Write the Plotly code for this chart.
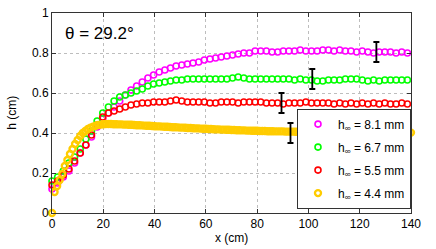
import numpy as np
import plotly.graph_objects as go

# ---------------- data ----------------
STEP_MAIN = 2.2   # cm between markers for the three larger depths
STEP_Y = 1.0      # cm between markers for the 4.4 mm run

h_magenta = [0.12, 0.15, 0.18, 0.21, 0.25, 0.30, 0.34, 0.38, 0.43, 0.47,
             0.50, 0.53, 0.56, 0.59, 0.615, 0.635, 0.655, 0.675, 0.69, 0.705,
             0.715, 0.725, 0.735, 0.74, 0.745, 0.75, 0.755, 0.765, 0.77, 0.775,
             0.78, 0.785, 0.79, 0.795, 0.80, 0.80, 0.81, 0.81, 0.81, 0.805,
             0.805, 0.81, 0.81, 0.81, 0.815, 0.81, 0.81, 0.81, 0.815, 0.815,
             0.81, 0.815, 0.81, 0.81, 0.805, 0.81, 0.805, 0.80, 0.805, 0.805,
             0.805, 0.80, 0.805, 0.80]

h_green = [0.16, 0.18, 0.21, 0.25, 0.28, 0.32, 0.37, 0.41, 0.46, 0.50,
           0.53, 0.56, 0.58, 0.59, 0.60, 0.61, 0.62, 0.635, 0.645, 0.65,
           0.655, 0.66, 0.665, 0.665, 0.67, 0.67, 0.67, 0.67, 0.67, 0.67,
           0.67, 0.67, 0.675, 0.68, 0.675, 0.67, 0.67, 0.67, 0.67, 0.67,
           0.67, 0.67, 0.67, 0.665, 0.67, 0.665, 0.665, 0.66, 0.66, 0.665,
           0.665, 0.665, 0.67, 0.67, 0.67, 0.665, 0.66, 0.665, 0.66, 0.665,
           0.665, 0.665, 0.665, 0.665]

h_red = [0.14, 0.16, 0.19, 0.22, 0.26, 0.30, 0.34, 0.39, 0.44, 0.48,
         0.50, 0.51, 0.52, 0.53, 0.54, 0.545, 0.55, 0.55, 0.555, 0.555,
         0.555, 0.56, 0.565, 0.56, 0.555, 0.555, 0.555, 0.555, 0.55, 0.55,
         0.555, 0.555, 0.555, 0.55, 0.555, 0.555, 0.555, 0.555, 0.55, 0.55,
         0.55, 0.545, 0.55, 0.55, 0.55, 0.555, 0.55, 0.55, 0.55, 0.55,
         0.545, 0.55, 0.545, 0.55, 0.545, 0.55, 0.545, 0.55, 0.545, 0.55,
         0.545, 0.545, 0.55, 0.545]

h_yellow = [0.000, 0.105, 0.135, 0.165, 0.195, 0.235, 0.265, 0.295, 0.320, 0.345,
            0.365, 0.385, 0.400, 0.410, 0.420, 0.427, 0.432, 0.436, 0.440, 0.442,
            0.444, 0.445, 0.445, 0.445, 0.444, 0.444, 0.443, 0.443, 0.442, 0.442,
            0.441, 0.441, 0.440, 0.439, 0.439, 0.438, 0.437, 0.436, 0.436, 0.435,
            0.434, 0.433, 0.433, 0.432, 0.431, 0.431, 0.430, 0.429, 0.429, 0.428,
            0.427, 0.427, 0.426, 0.425, 0.425, 0.424, 0.423, 0.423, 0.422, 0.421,
            0.421, 0.420, 0.420, 0.419, 0.418, 0.418, 0.417, 0.417, 0.416, 0.416,
            0.415, 0.415, 0.414, 0.414, 0.413, 0.413, 0.412, 0.412, 0.411, 0.411,
            0.411, 0.410, 0.410, 0.410, 0.409, 0.409, 0.409, 0.408, 0.408, 0.408,
            0.408, 0.407, 0.407, 0.407, 0.407, 0.406, 0.406, 0.406, 0.406, 0.406,
            0.405, 0.405, 0.405, 0.405, 0.405, 0.405, 0.404, 0.404, 0.404, 0.404,
            0.404, 0.404, 0.404, 0.404, 0.403, 0.403, 0.403, 0.403, 0.403, 0.403,
            0.403, 0.403, 0.403, 0.403, 0.403, 0.402, 0.402, 0.402, 0.402, 0.402,
            0.402, 0.402, 0.402, 0.402, 0.402, 0.402, 0.402, 0.402, 0.402, 0.402,
            0.402]

series_names = ["h<sub>∞</sub> = 8.1 mm", "h<sub>∞</sub> = 6.7 mm",
                "h<sub>∞</sub> = 5.5 mm", "h<sub>∞</sub> = 4.4 mm"]
series_colors = ["#FF00FF", "#00FF00", "#FF0000", "#FFCC00"]

err_x = [126.5, 101.5, 89.5, 93.0]
err_y = [0.805, 0.67, 0.55, 0.40]
err_h = [0.05, 0.05, 0.05, 0.05]

x_ticks = [0, 20, 40, 60, 80, 100, 120, 140]
y_ticks = [0, 0.2, 0.4, 0.6, 0.8, 1]
y_tick_text = ["0", "0.2", "0.4", "0.6", "0.8", "1"]

# ---------------- figure ----------------
FONT = "Liberation Sans, Arial, sans-serif"
fig = go.Figure()

all_h = [h_magenta, h_green, h_red, h_yellow]
steps = [STEP_MAIN, STEP_MAIN, STEP_MAIN, STEP_Y]
line_w = [1.6, 1.6, 1.6, 2.4]
for i, (h, name, col, st, lw) in enumerate(zip(all_h, series_names, series_colors, steps, line_w)):
    x = np.arange(len(h)) * st
    fig.add_trace(go.Scatter(
        x=x, y=h, mode="markers", name=name, cliponaxis=False,
        legendgroup=f"g{i}",
        marker=dict(symbol="circle-open", size=6, color=col,
                    line=dict(width=lw, color=col)),
    ))

fig.add_trace(go.Scatter(
    x=err_x, y=err_y, mode="markers", showlegend=False, cliponaxis=False,
    marker=dict(size=1, color="rgba(0,0,0,0)"),
    error_y=dict(type="data", array=err_h, visible=True, color="black",
                 thickness=1.8, width=3),
))

axis_common = dict(
    showline=True, linecolor="#333333", linewidth=1, mirror="ticks",
    ticks="inside", ticklen=4, tickcolor="#333333", automargin=False,
    showgrid=True, gridcolor="#bdbdbd", griddash="dot", gridwidth=1,
    zeroline=False, tickfont=dict(family=FONT, size=12, color="black"),
)

fig.update_xaxes(range=[0, 140], tickvals=x_ticks, **axis_common)
fig.update_yaxes(range=[0, 1], tickvals=y_ticks, ticktext=y_tick_text, **axis_common)

fig.update_layout(
    width=436, height=249,
    margin=dict(l=52, r=25, t=13, b=36, pad=0),
    plot_bgcolor="white", paper_bgcolor="white",
    font=dict(family=FONT, size=12, color="black"),
    legend=dict(x=1, y=0.022, xanchor="right", yanchor="bottom",
                bgcolor="white", bordercolor="#333333", borderwidth=1,
                font=dict(family=FONT, size=12, color="black"),
                tracegroupgap=4, itemwidth=30),
    annotations=[
        dict(text="θ = 29.2°", xref="paper", yref="paper", x=0.03, y=0.9,
             xanchor="left", yanchor="middle", showarrow=False,
             font=dict(family=FONT, size=17, color="black")),
        dict(text="x (cm)", xref="paper", yref="paper", x=0.5, y=-0.125,
             xanchor="center", yanchor="middle", showarrow=False,
             font=dict(family=FONT, size=12, color="black")),
        dict(text="h (cm)", xref="paper", yref="paper", x=-0.112, y=0.5,
             xanchor="center", yanchor="middle", showarrow=False, textangle=-90,
             font=dict(family=FONT, size=12, color="black")),
    ],
)

fig.write_html("out.html", config={"displayModeBar": False},
               post_script="document.body.style.margin='0';document.body.style.padding='0';")
